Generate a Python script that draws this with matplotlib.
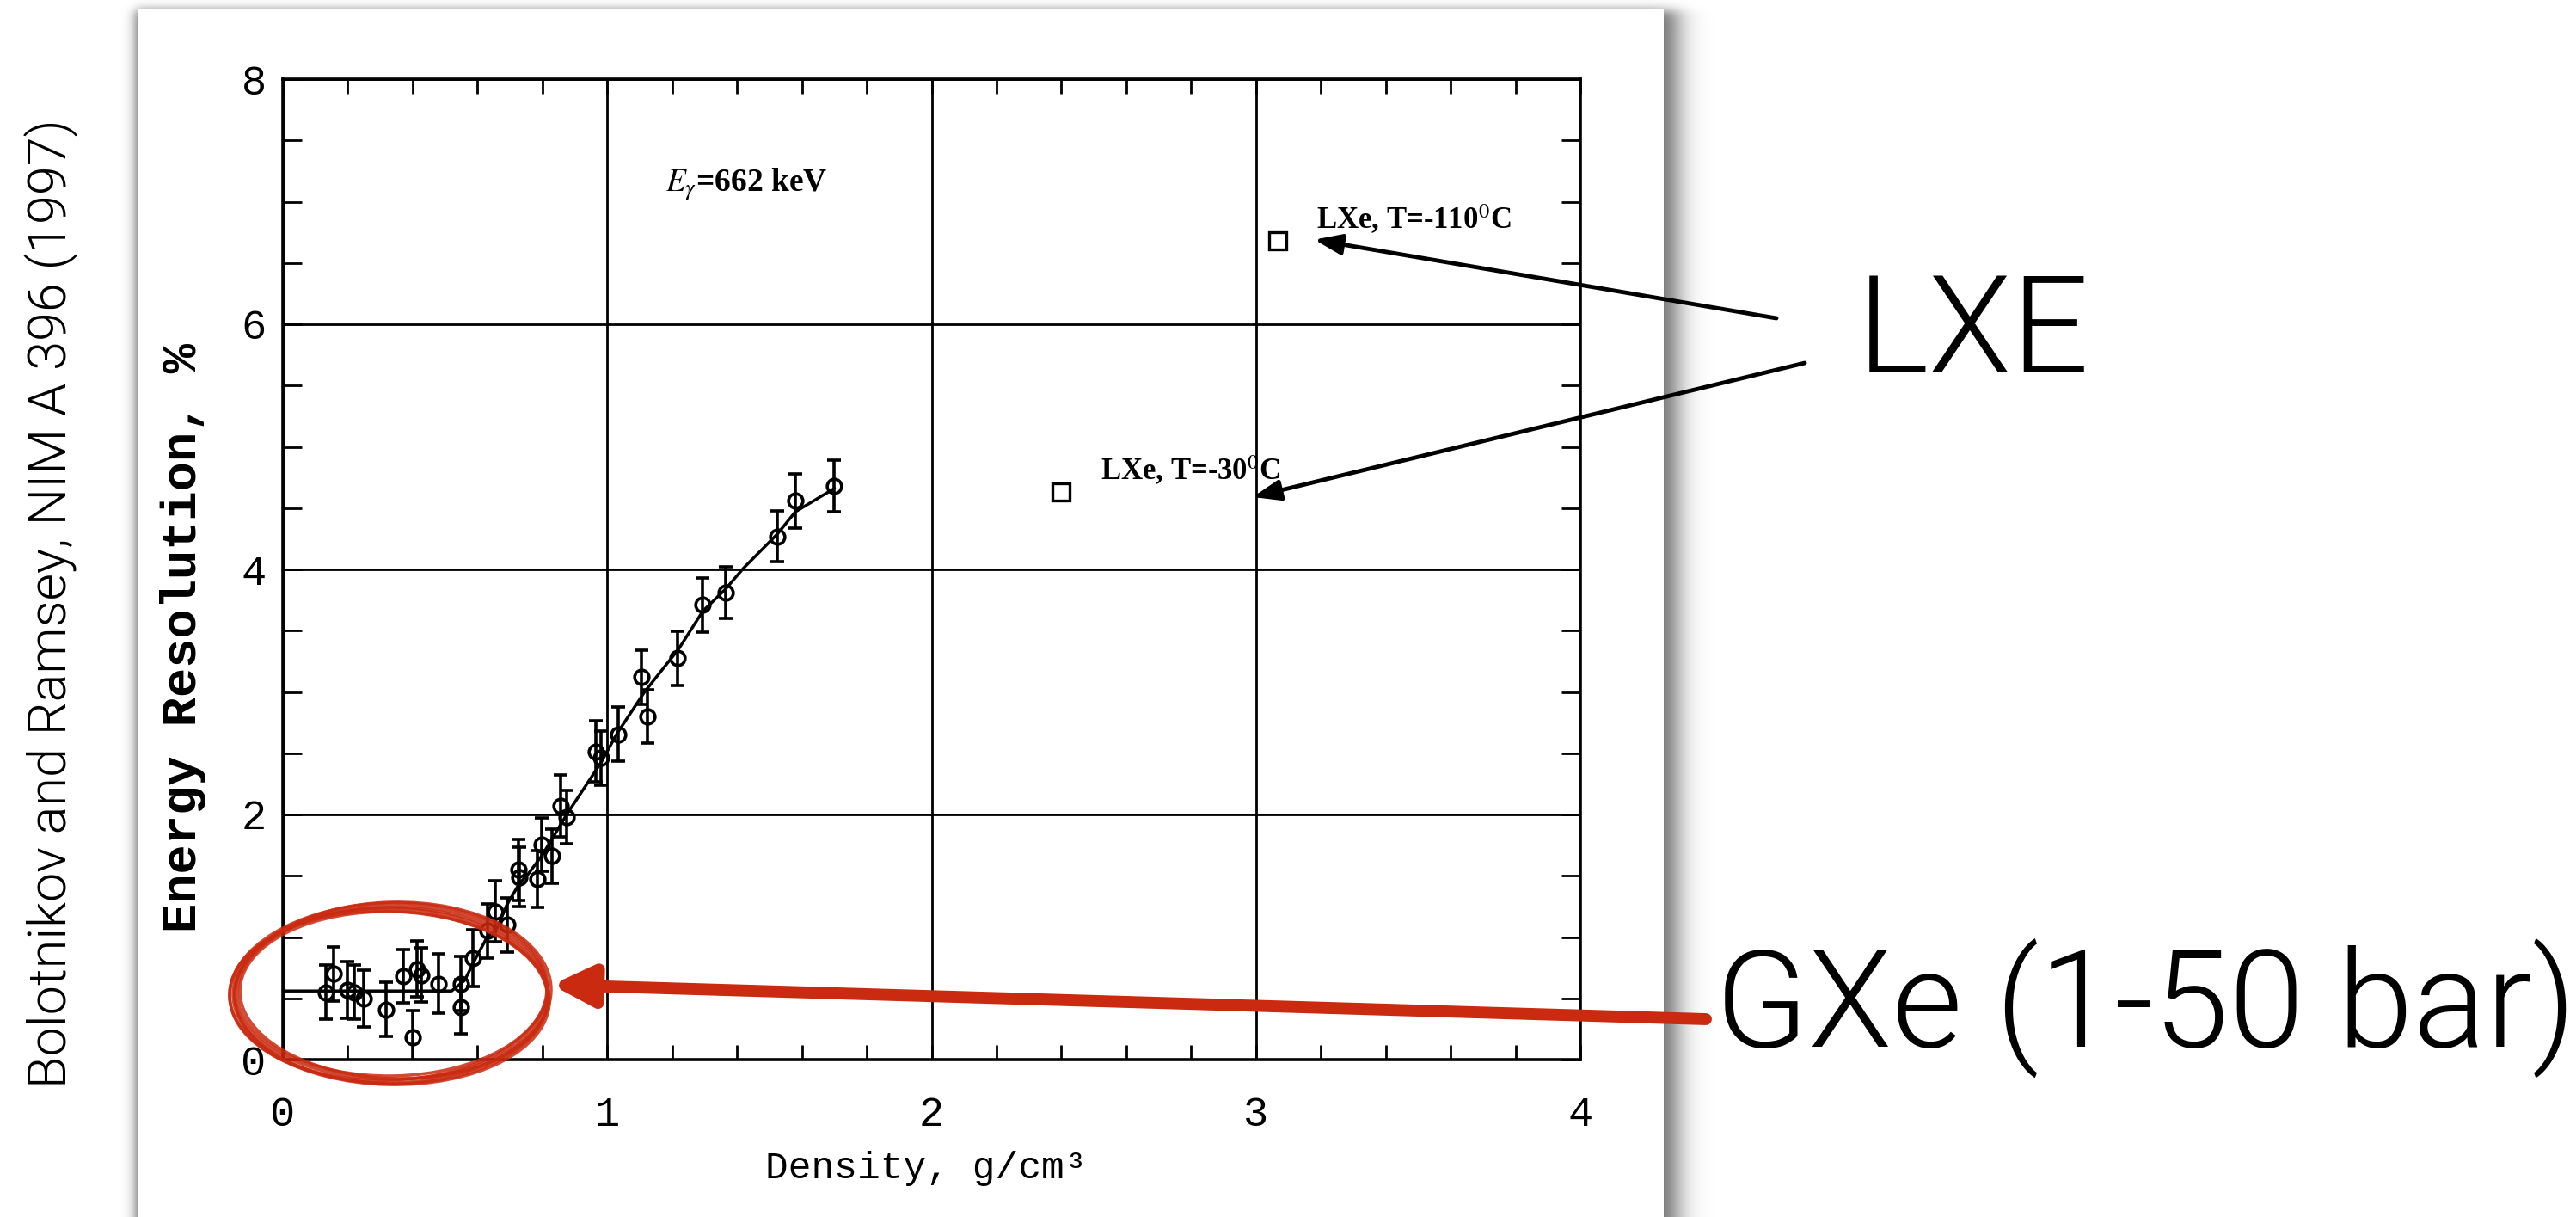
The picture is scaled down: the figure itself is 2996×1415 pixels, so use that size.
import numpy as np
import matplotlib
matplotlib.use("Agg")
import matplotlib.pyplot as plt
from matplotlib.patches import Rectangle, Ellipse
from matplotlib.ticker import MultipleLocator

W, H = 2996, 1415

# Xe energy resolution at 662 keV versus density
gxe_density = [0.133, 0.157, 0.200, 0.220, 0.248, 0.318, 0.370, 0.400, 0.414, 0.427,
               0.480, 0.550, 0.550, 0.586, 0.632, 0.655, 0.693, 0.727, 0.730, 0.785,
               0.798, 0.829, 0.856, 0.874, 0.966, 0.980, 1.033, 1.106, 1.123, 1.218,
               1.294, 1.364, 1.523, 1.580, 1.700]
gxe_resolution = [0.55, 0.70, 0.57, 0.55, 0.50, 0.41, 0.68, 0.18, 0.74, 0.69,
                  0.62, 0.62, 0.43, 0.83, 1.05, 1.21, 1.10, 1.55, 1.49, 1.475,
                  1.755, 1.66, 2.07, 1.98, 2.515, 2.46, 2.655, 3.12, 2.80, 3.275,
                  3.71, 3.81, 4.27, 4.56, 4.68]
gxe_error = [0.22, 0.22, 0.23, 0.22, 0.23, 0.22, 0.22, 0.22, 0.23, 0.22,
             0.24, 0.22, 0.22, 0.23, 0.22, 0.25, 0.22, 0.25, 0.24, 0.23,
             0.22, 0.22, 0.25, 0.22, 0.25, 0.22, 0.22, 0.22, 0.22, 0.22,
             0.22, 0.21, 0.21, 0.22, 0.21]

fit_density = [0.0, 0.52, 0.56, 0.595, 0.63, 0.66, 0.69, 0.73, 0.755, 0.80, 0.875,
               0.98, 1.03, 1.115, 1.22, 1.295, 1.365, 1.42, 1.525, 1.58, 1.70]
fit_resolution = [0.56, 0.56, 0.645, 0.83, 1.0, 1.07, 1.26, 1.44, 1.51, 1.67, 2.0,
                  2.42, 2.66, 3.0, 3.35, 3.66, 3.84, 4.01, 4.29, 4.47, 4.66]

lxe_density = [2.40, 3.066]
lxe_resolution = [4.63, 6.68]
lxe_labels = ["LXe, T=-30$^0$C", "LXe, T=-110$^0$C"]

plt.rcParams["mathtext.fontset"] = "stix"
plt.rcParams["font.family"] = ["Liberation Mono", "DejaVu Sans"]
serif = ["Liberation Serif", "DejaVu Serif"]
slide_font = ["Roboto", "DejaVu Sans"]
red = "#c92a10"

fig = plt.figure(figsize=(W / 100, H / 100), dpi=100)

# slide background: white card with a soft drop shadow
bg = fig.add_axes([0, 0, 1, 1], zorder=0)
xs = np.arange(W) + 0.5
ys = np.arange(H) + 0.5
fx = 0.5 * (np.tanh((xs - 158) / 8) - np.tanh((xs - 1950) / 18))
fy = 0.5 * (1 + np.tanh((ys - 12) / 7))
shade = 1 - 0.6 * np.outer(fy, fx)
bg.imshow(shade, cmap="gray", vmin=0, vmax=1, extent=(0, W, H, 0),
          interpolation="bilinear", aspect="auto")
bg.add_patch(Rectangle((160, 11), 1935 - 160, H, facecolor="white", edgecolor="none"))
bg.set_xlim(0, W)
bg.set_ylim(H, 0)
bg.axis("off")

# the scanned plot
ax = fig.add_axes([329 / W, 1 - 1232 / H, (1838 - 329) / W, (1232 - 92) / H], zorder=1)
ax.set_facecolor("none")
ax.plot(fit_density, fit_resolution, color="k", lw=2.5, zorder=2)
ax.errorbar(gxe_density, gxe_resolution, yerr=gxe_error, fmt="o", ms=12,
            mfc="none", mec="k", mew=2.6, ecolor="k", elinewidth=2.6,
            capsize=6, capthick=2.6, zorder=3)
ax.plot(lxe_density, lxe_resolution, "s", ms=15, mfc="none", mec="k", mew=2.4)
for x, y, lab in zip(lxe_density, lxe_resolution, lxe_labels):
    ax.text(x + 0.12, y + 0.18, lab, family=serif, fontsize=25, fontweight="bold",
            va="center")
ax.text(1.43, 7.14, r"$E_\gamma$=662 keV", family=serif, fontsize=27, fontweight="bold",
        ha="center", va="center")

ax.set_xlim(0, 4)
ax.set_ylim(0, 8)
ax.xaxis.set_major_locator(MultipleLocator(1))
ax.xaxis.set_minor_locator(MultipleLocator(0.2))
ax.yaxis.set_major_locator(MultipleLocator(2))
ax.yaxis.set_minor_locator(MultipleLocator(0.5))
ax.grid(which="major", color="k", lw=2)
ax.tick_params(which="both", direction="in", top=True, right=True, width=2, colors="k")
ax.tick_params(axis="x", which="both", length=12, pad=30, labelsize=35)
ax.tick_params(axis="y", which="both", length=16, pad=14, labelsize=35)
for sp in ax.spines.values():
    sp.set_linewidth(2.6)

ax.set_xlabel("Density, g/cm³", fontsize=32)
ax.xaxis.set_label_coords(0.496, -0.093)
ax.set_ylabel("Energy Resolution, %", fontsize=41, fontweight="bold")
ax.yaxis.set_label_coords(-0.059, 0.43)

# slide annotations on top
ov = fig.add_axes([0, 0, 1, 1], zorder=2)
ov.set_xlim(0, W)
ov.set_ylim(H, 0)
ov.axis("off")

ov.text(2160, 433, "LXE", family=slide_font, fontweight=300, fontsize=114, va="baseline")
ov.text(1995, 1218, "GXe (1-50 bar)", family=slide_font, fontweight=300,
        fontsize=114, va="baseline")
ov.text(60, 702, "Bolotnikov and Ramsey, NIM A 396 (1997)", family=slide_font,
        fontweight=300, fontsize=44, rotation=90, ha="center", va="center")

black_head = dict(arrowstyle="-|>,head_length=1.6,head_width=0.6", color="k", lw=3.5,
                  shrinkA=0, shrinkB=0, mutation_scale=12)
ov.annotate("", xy=(3.18, 6.69), xycoords=ax.transData, xytext=(2066, 370),
            textcoords="data", arrowprops=black_head)
ov.annotate("", xy=(2.99, 4.59), xycoords=ax.transData, xytext=(2099, 422),
            textcoords="data", arrowprops=black_head)
ov.annotate("", xy=(0.829, 0.61), xycoords=ax.transData, xytext=(1984, 1185),
            textcoords="data",
            arrowprops=dict(arrowstyle="-|>,head_length=2.8,head_width=1.4", color=red,
                            lw=10, shrinkA=0, shrinkB=0, mutation_scale=10))

# hand-drawn ring around the gas points
ring = [(455, 1155, 364, 200, 0), (452, 1153, 370, 206, -2), (458, 1157, 358, 194, 2),
        (454, 1158, 366, 204, 1), (456, 1152, 360, 198, -1), (453, 1160, 372, 202, 1.5),
        (457, 1154, 368, 210, -1.5)]
for cx, cy, w, h, a in ring:
    ov.add_patch(Ellipse((cx, cy), w, h, angle=a, fill=False, edgecolor=red, lw=2.6,
                         alpha=0.85))

fig.savefig("out.png", dpi=100)
